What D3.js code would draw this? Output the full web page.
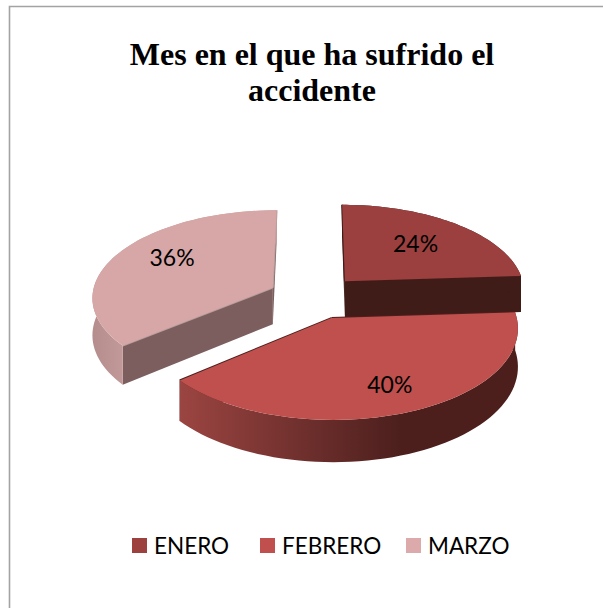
<!DOCTYPE html>
<html><head><meta charset="utf-8">
<script src="https://cdn.jsdelivr.net/npm/d3@7"></script>
<style>html,body{margin:0;padding:0;background:#fff}svg{display:block}</style>
</head><body><div id="chart"></div>
<script>
const categories = ["ENERO", "FEBRERO", "MARZO"];
const values = [24, 40, 36];
const titleLines = ["Mes en el que ha sufrido el", "accidente"];
const topColors = ["#9b403e", "#bf504d", "#d7a7a7"];
const legendColors = ["#9d413e", "#c0504d", "#dcaaaa"];

const W = 603, H = 608;
const svg = d3.select("#chart").append("svg").attr("width", W).attr("height", H);

// chart frame: only the top and left edges fall inside the picture
svg.append("path").attr("d", d3.line()([[603, 6.5], [9.5, 6.5], [9.5, 608]]))
  .attr("fill", "none").attr("stroke", "#a3a3a3").attr("stroke-width", 1.6);

svg.append("g").selectAll("text").data(titleLines).join("text")
  .attr("x", 312).attr("y", (d, i) => 65 + i * 36)
  .attr("text-anchor", "middle")
  .attr("font-family", "'Liberation Serif', serif").attr("font-weight", "bold").attr("font-size", 32)
  .attr("fill", "#000").text(d => d);

// projected pie
const cx = 314, cy = 297, R = 181, explode = 46, tilt = 0.481, dist = 1800, depth = 37;
const arcs = d3.pie().sort(null).value(d => d)(values);
function proj(a, mid, z) {
  const X = R * a[0] * Math.sin(a[1]) + explode * Math.sin(mid);
  const Y = -(R * a[0] * Math.cos(a[1]) + explode * Math.cos(mid));
  const p = 1 / (1 - Y / dist);
  return [cx + X * p, cy + (Y * tilt + z) * p];
}
const line = d3.line();
const angleSamples = (a0, a1) => d3.range(0, 61).map(i => a0 + (a1 - a0) * i / 60);

const defs = svg.append("defs");
const febGrad = defs.append("linearGradient").attr("id", "febWall").attr("gradientUnits", "userSpaceOnUse")
  .attr("x1", 178).attr("x2", 400).attr("y1", 0).attr("y2", 0);
febGrad.append("stop").attr("offset", 0).attr("stop-color", "#9c4542");
febGrad.append("stop").attr("offset", 1).attr("stop-color", "#4c1f1d");
const marGrad = defs.append("linearGradient").attr("id", "marWall").attr("gradientUnits", "userSpaceOnUse")
  .attr("x1", 92).attr("x2", 130).attr("y1", 0).attr("y2", 0);
marGrad.append("stop").attr("offset", 0).attr("stop-color", "#b58d8d");
marGrad.append("stop").attr("offset", 1).attr("stop-color", "#c59c9c");

const wallFill = ["#401c19", "url(#febWall)", "url(#marWall)"];
const faceFill = ["#401c19", "#4c1f1d", "#7b5e5d"];
const edgeFill = ["#401c19", "#4c1f1d", "#b79c9c"];
const labelNudge = [[2, -2], [14, 13], [-7, -9]];
const order = [2, 0, 1];
const pieG = svg.append("g");
order.forEach(i => {
  const d = arcs[i], mid = (d.startAngle + d.endAngle) / 2;
  const g = pieG.append("g");
  [d.startAngle, d.endAngle].forEach(a => {
    const q = [proj([0, a], mid, 0), proj([1, a], mid, 0), proj([1, a], mid, depth), proj([0, a], mid, depth)];
    g.append("path").attr("d", line(q) + "Z").attr("fill", faceFill[i]);
    g.append("path").attr("d", line([q[0], q[1]])).attr("fill", "none")
      .attr("stroke", edgeFill[i]).attr("stroke-width", 2);
  });
  const rim = angleSamples(d.startAngle, d.endAngle);
  const top = rim.map(a => proj([1, a], mid, 0));
  const bot = rim.map(a => proj([1, a], mid, depth)).reverse();
  g.append("path").attr("d", line(top.concat(bot)) + "Z").attr("fill", wallFill[i]);
  g.append("path").attr("d", line([proj([0, 0], mid, 0)].concat(top)) + "Z").attr("fill", topColors[i]);
  const pos = proj([0.6, mid], mid, 0);
  g.append("text").attr("x", pos[0] + labelNudge[i][0]).attr("y", pos[1] + labelNudge[i][1])
    .attr("dy", "0.35em").attr("text-anchor", "middle")
    .attr("font-family", "Lato, sans-serif").attr("font-size", 23).attr("fill", "#000")
    .text(values[i] + "%");
});

// legend
const legendX = d3.scaleOrdinal().domain(categories).range([132, 260, 406]);
const lg = svg.append("g").selectAll("g").data(categories).join("g")
  .attr("transform", d => `translate(${legendX(d)},538)`);
lg.append("rect").attr("width", 15).attr("height", 15).attr("fill", (d, i) => legendColors[i]);
lg.append("text").attr("x", 22).attr("y", 15.5)
  .attr("font-family", "Lato, sans-serif").attr("font-size", 22.5).attr("fill", "#000").text(d => d);
</script></body></html>
